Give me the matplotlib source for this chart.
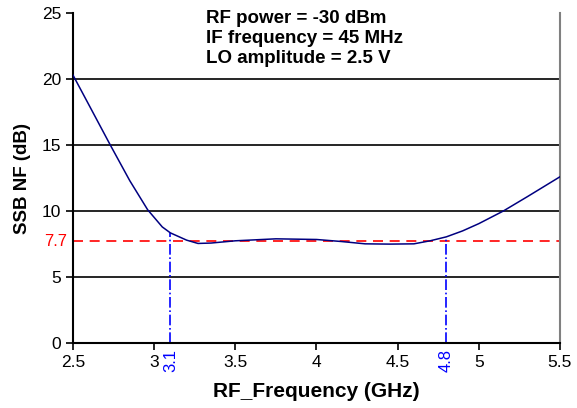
import numpy as np
import matplotlib.pyplot as plt

plt.rcParams['font.family'] = ['Liberation Sans', 'DejaVu Sans']

## the data
freq = [2.5, 2.6, 2.73, 2.85, 2.96, 3.05, 3.1, 3.2, 3.27, 3.35, 3.5, 3.75, 4.0,
        4.15, 4.3, 4.45, 4.6, 4.7, 4.8, 4.9, 5.0, 5.15, 5.3, 5.5]
nf = [20.3, 18.0, 15.0, 12.3, 10.1, 8.8, 8.35, 7.8, 7.55, 7.58, 7.75, 7.9, 7.85,
      7.7, 7.52, 7.5, 7.52, 7.75, 8.05, 8.5, 9.05, 10.0, 11.1, 12.6]
nf_level = 7.7
band_edges = [3.1, 4.8]
info_lines = ['RF power = -30 dBm', 'IF frequency = 45 MHz', 'LO amplitude = 2.5 V']

fig = plt.figure(figsize=(5.77, 4.08), dpi=100)
ax = fig.add_axes([0.1265, 0.159, 0.844, 0.809])

# grid lines
for g in [5, 10, 15, 20]:
    ax.axhline(g, color='black', lw=1.2, zorder=1)

ax.plot(freq, nf, color='#000080', lw=1.1, zorder=3)

# 7.7 dB reference line and band edges
ax.axhline(nf_level, color='red', ls=(0, (6, 4)), lw=1.2, zorder=2)
edge_nf = np.interp(band_edges, freq, nf)
for xe, ye in zip(band_edges, edge_nf):
    ax.plot([xe, xe], [0, ye], color='blue', ls='-.', lw=1.2, zorder=2)

ax.set_xlim(2.5, 5.5)
ax.set_ylim(0, 25)
ax.set_xticks([2.5, 3, 3.5, 4, 4.5, 5, 5.5])
ax.set_xticklabels(['2.5', '3', '3.5', '4', '4.5', '5', '5.5'])
ax.set_yticks([0, 5, 10, 15, 20, 25])
ax.tick_params(direction='out', length=5, width=1.2, labelsize=12.5, colors='black')

ax.spines['top'].set_visible(False)
ax.spines['right'].set_color('gray')
ax.spines['right'].set_linewidth(1.5)
ax.spines['left'].set_linewidth(1.5)
ax.spines['bottom'].set_linewidth(1.5)

# colored extra labels
ax.text(-0.012, nf_level, '7.7', color='red', fontsize=12, ha='right', va='center',
        transform=ax.get_yaxis_transform())
for xe in band_edges:
    ax.text(xe, -0.018, f'{xe}', color='blue', fontsize=12, rotation=90,
            ha='center', va='top', transform=ax.get_xaxis_transform())

ax.text(3.32, 25.2, '\n'.join(info_lines), fontsize=13.5, fontweight='bold',
        va='top', ha='left', linespacing=1.2)

ax.set_xlabel('RF_Frequency (GHz)', fontsize=15, fontweight='bold', labelpad=9)
ax.set_ylabel('SSB NF (dB)', fontsize=13.5, fontweight='bold', labelpad=8)

fig.savefig('out.png', dpi=100)
